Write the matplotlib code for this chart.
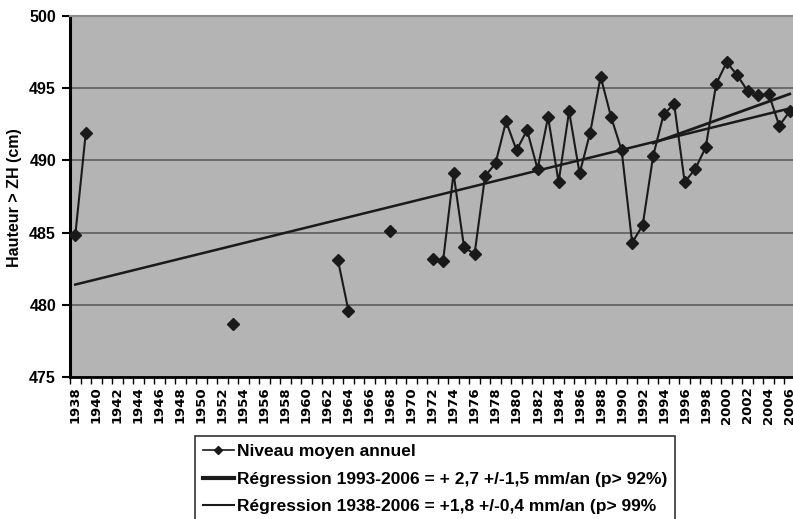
import numpy as np
import matplotlib.pyplot as plt
from matplotlib.lines import Line2D

# annual mean sea level (cm above ZH), NaN = missing year
years = np.arange(1938, 2007)
niveau = np.full(len(years), np.nan)
known = {
    1938: 484.8, 1939: 491.9, 1953: 478.7, 1963: 483.1, 1964: 479.6,
    1968: 485.1, 1972: 483.2, 1973: 483.0, 1974: 489.1, 1975: 484.0,
    1976: 483.5, 1977: 488.9, 1978: 489.8, 1979: 492.7, 1980: 490.7,
    1981: 492.1, 1982: 489.4, 1983: 493.0, 1984: 488.5, 1985: 493.4,
    1986: 489.1, 1987: 491.9, 1988: 495.8, 1989: 493.0, 1990: 490.7,
    1991: 484.3, 1992: 485.5, 1993: 490.3, 1994: 493.2, 1995: 493.9,
    1996: 488.5, 1997: 489.4, 1998: 490.9, 1999: 495.3, 2000: 496.8,
    2001: 495.9, 2002: 494.8, 2003: 494.5, 2004: 494.6, 2005: 492.4,
    2006: 493.4,
}
for y, v in known.items():
    niveau[years == y] = v

# trend lines, ends
reg_long_x = [1938, 2006]
reg_long_y = [481.4, 493.6]
reg_short_x = [1993, 2006]
reg_short_y = [491.2, 494.6]

labels = ["Niveau moyen annuel",
          "Régression 1993-2006 = + 2,7 +/-1,5 mm/an (p> 92%)",
          "Régression 1938-2006 = +1,8 +/-0,4 mm/an (p> 99%"]

fig = plt.figure(figsize=(7.93, 5.19), dpi=100)
ax = fig.add_axes([70/793, 1-377/519, 725/793, 361/519])
ax.set_facecolor("#b4b4b4")

ax.plot(years, niveau, color="#1a1a1a", lw=1.5, marker="D", ms=6,
        mfc="#1a1a1a", mec="#1a1a1a", zorder=3)
ax.plot(reg_long_x, reg_long_y, color="#1a1a1a", lw=1.8, zorder=4)
ax.plot(reg_short_x, reg_short_y, color="#1a1a1a", lw=2.0, zorder=4)

ax.set_xlim(1937.5, 2006.5)
ax.set_ylim(475, 500)
ax.set_yticks(np.arange(475, 501, 5))
ax.yaxis.grid(True, color="#6a6a6a", lw=1.4)
ax.set_axisbelow(True)

ax.set_xticks(years[::2])
ax.set_xticklabels([str(y) for y in years[::2]], rotation=90,
                   fontfamily="DejaVu Sans", fontweight="bold", fontsize=9.5)
ax.set_xticks(np.arange(1937.5, 2007, 1), minor=True)
ax.tick_params(axis="x", which="major", length=0, pad=7)
ax.tick_params(axis="x", which="minor", length=5, width=1, color="black")
ax.tick_params(axis="y", length=6, width=1.5, pad=4)
for t in ax.get_yticklabels():
    t.set_fontfamily("Liberation Sans")
    t.set_fontweight("bold")
    t.set_fontsize(11.5)

ax.spines["left"].set_linewidth(2.2)
ax.spines["bottom"].set_linewidth(2)
ax.spines["top"].set_color("#8c8c8c")
ax.spines["top"].set_linewidth(1.5)
ax.spines["right"].set_visible(False)

fig.text(15/793, 1-198/519, "Hauteur > ZH (cm)", rotation=90, ha="center",
         va="center", fontfamily="Liberation Sans", fontweight="bold",
         fontsize=11.5)

handles = [Line2D([], [], color="#1a1a1a", lw=1.2, marker="D", ms=4),
           Line2D([], [], color="#1a1a1a", lw=3),
           Line2D([], [], color="#1a1a1a", lw=1.5)]
leg = fig.legend(handles, labels, loc="upper left",
                 bbox_to_anchor=(195/793, 1-436/519), borderaxespad=0,
                 fancybox=False, edgecolor="#333333", framealpha=1,
                 borderpad=0.45, labelspacing=0.72, handlelength=1.8,
                 handletextpad=0.15,
                 prop={"family": "Liberation Sans", "weight": "bold",
                       "size": 12.5})
leg.get_frame().set_linewidth(1.2)

fig.savefig("out.png", dpi=100)
